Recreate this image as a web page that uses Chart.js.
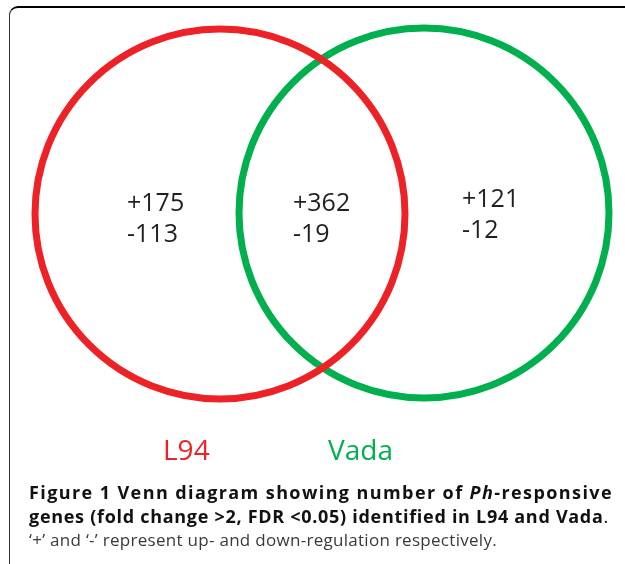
<!DOCTYPE html>
<html>
<head>
<meta charset="utf-8">
<script src="https://cdn.jsdelivr.net/npm/chart.js@4.4.1/dist/chart.umd.min.js"></script>
<style>
    body { margin: 0; background: #fff; width: 625px; height: 564px; overflow: hidden; position: relative; font-family: "Open Sans", sans-serif; }
    #frame { position: absolute; left: 9px; top: 6px; width: 640px; height: 600px; border-left: 1px solid #333; border-top: 2px solid #000; border-top-left-radius: 9px; }
    #wrap { position: absolute; left: 0; top: 0; width: 625px; height: 564px; }
    .cap { position: absolute; left: 29px; white-space: nowrap; color: #111; display: inline-block; line-height: 1; }
    .b { font-weight: 700; font-size: 18px; }
    #c1 { top: 483px; }
    #c2 { top: 507px; }
    #c3 { top: 531px; font-size: 17px; color: #3a3a3a; }
</style>
</head>
<body>
<div id="frame"></div>
<div id="wrap"><canvas id="venn" width="625" height="564"></canvas></div>
<div class="cap b" id="c1" data-w="584">Figure 1 Venn diagram showing number of <i>Ph</i>-responsive</div>
<div class="cap b" id="c2" data-w="580">genes (fold change &gt;2, FDR &lt;0.05) identified in L94 and Vada<span style="font-weight:400">.</span></div>
<div class="cap" id="c3" data-w="468">‘+’ and ‘-’ represent up- and down-regulation respectively.</div>
<script>
// data
const setNames = ['L94', 'Vada'];
const regions = ['L94 only', 'L94 and Vada', 'Vada only'];
const upCounts = [175, 362, 121];
const downCounts = [113, 19, 12];

// layout (page pixels)
const setColors = ['#ED2227', '#00AF4E'];
const circleCenters = [[220, 214], [424, 213]];
const circleRadius = 185;
const regionPos = [[127, 211], [293, 211], [462, 207]];
const namePos = [[163, 460], [328, 460]];

// stretch caption lines to the width they have in the figure
document.querySelectorAll('.cap').forEach(el => {
    const w = el.getBoundingClientRect().width;
    const n = el.textContent.length;
    el.style.letterSpacing = ((+el.dataset.w - w) / n) + 'px';
});

const vennText = {
    id: 'vennText',
    afterDatasetsDraw(chart) {
        const {ctx, scales: {x, y}} = chart;
        ctx.save();
        ctx.textBaseline = 'alphabetic';
        ctx.textAlign = 'left';
        ctx.font = '25px "Open Sans"';
        ctx.fillStyle = '#231F20';
        regions.forEach((r, i) => {
            const px = x.getPixelForValue(regionPos[i][0]);
            const py = y.getPixelForValue(regionPos[i][1]);
            ctx.fillText('+' + upCounts[i], px, py);
            ctx.fillText('-' + downCounts[i], px, py + 31);
        });
        ctx.font = '28px "Open Sans"';
        setNames.forEach((n, i) => {
            ctx.fillStyle = setColors[i];
            ctx.fillText(n, x.getPixelForValue(namePos[i][0]), y.getPixelForValue(namePos[i][1]));
        });
        ctx.restore();
    }
};

new Chart(document.getElementById('venn'), {
    type: 'bubble',
    data: {
        datasets: setNames.map((n, i) => ({
            label: n,
            data: [{x: circleCenters[i][0], y: circleCenters[i][1], r: circleRadius}],
            backgroundColor: 'rgba(0,0,0,0)',
            borderColor: setColors[i],
            borderWidth: 7,
            hoverBorderWidth: 7
        }))
    },
    options: {
        responsive: false,
        animation: false,
        events: [],
        clip: false,
        layout: {padding: 0, autoPadding: false},
        plugins: {legend: {display: false}, tooltip: {enabled: false}},
        scales: {
            x: {type: 'linear', display: false, min: 0, max: 625},
            y: {type: 'linear', display: false, min: 0, max: 564, reverse: true}
        }
    },
    plugins: [vennText]
});
</script>
</body>
</html>
